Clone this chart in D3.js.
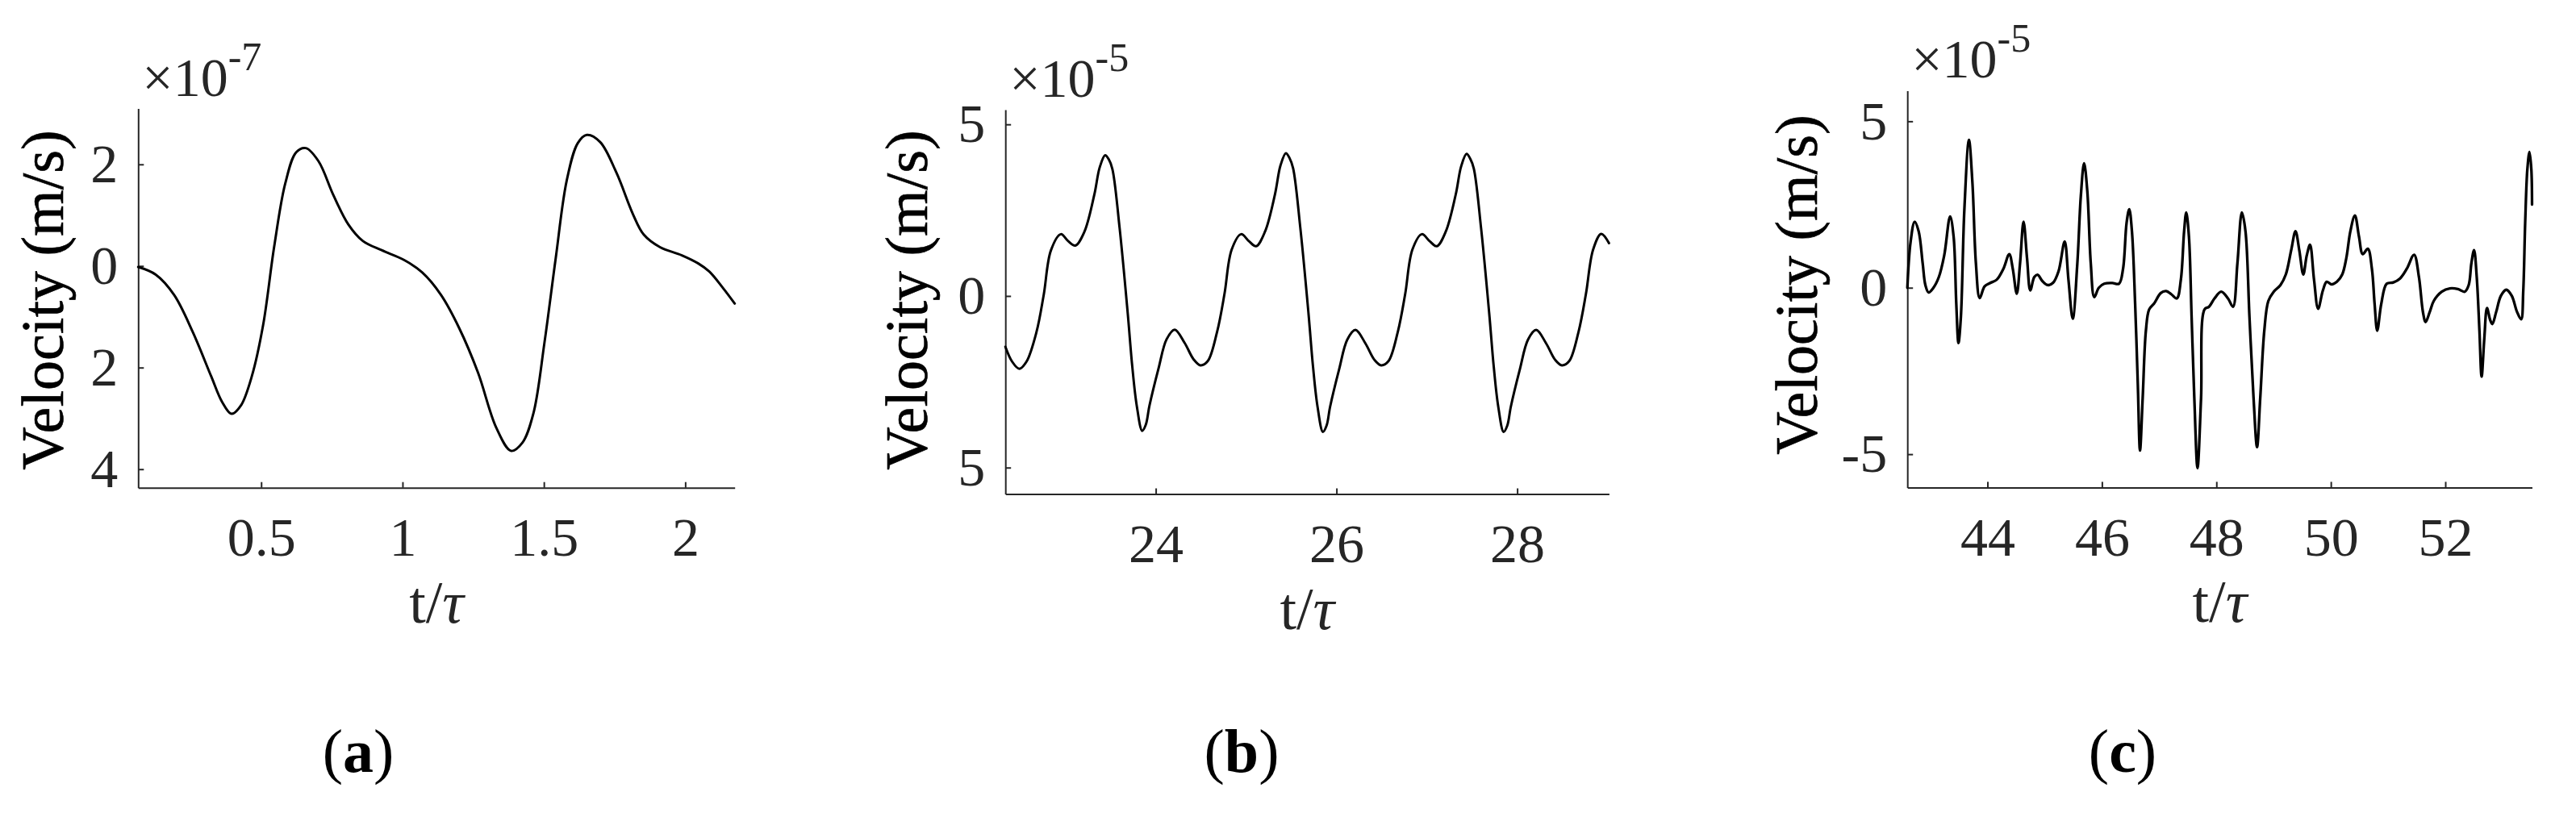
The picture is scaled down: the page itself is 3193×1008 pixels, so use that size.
<!DOCTYPE html>
<html><head><meta charset="utf-8">
<script src="https://cdn.jsdelivr.net/npm/d3@7"></script>
<style>html,body{margin:0;padding:0;background:#fff} svg{display:block}</style>
</head><body>
<script>
// ---------------- DATA ----------------
// Panel (a): t/tau and velocity (x1e-7 m/s)
const tA = [0.065, 0.127, 0.192, 0.258, 0.323, 0.362, 0.395, 0.428, 0.467, 0.507, 0.546, 0.585, 0.624, 0.658, 0.703, 0.755, 0.808, 0.860, 0.926, 1.005, 1.070, 1.136, 1.201, 1.267, 1.332, 1.384, 1.424, 1.463, 1.502, 1.542, 1.581, 1.620, 1.652, 1.699, 1.757, 1.815, 1.853, 1.911, 1.988, 2.046, 2.085, 2.133, 2.175];
const vA = [-0.02, -0.17, -0.57, -1.30, -2.17, -2.68, -2.91, -2.75, -2.17, -1.16, 0.38, 1.62, 2.24, 2.32, 2.06, 1.40, 0.82, 0.49, 0.31, 0.12, -0.13, -0.57, -1.23, -2.10, -3.19, -3.64, -3.48, -2.90, -1.51, 0.16, 1.69, 2.42, 2.58, 2.44, 1.83, 1.02, 0.62, 0.37, 0.21, 0.05, -0.11, -0.43, -0.74];

// Panel (b): t/tau and velocity (x1e-5 m/s)
const tB = [22.336, 22.41, 22.49, 22.57, 22.68, 22.76, 22.84, 22.95, 23.03, 23.11, 23.21, 23.32, 23.38, 23.44, 23.48, 23.52, 23.60, 23.69, 23.74, 23.79, 23.85, 23.89, 23.93, 24.03, 24.12, 24.21, 24.32, 24.42,
  24.495, 24.575, 24.68, 24.76, 24.84, 24.945, 25.03, 25.11, 25.21, 25.32, 25.38, 25.44, 25.48, 25.52, 25.60, 25.69, 25.74, 25.79, 25.85, 25.89, 25.93, 26.03, 26.12, 26.21, 26.32, 26.42,
  26.495, 26.575, 26.68, 26.76, 26.84, 26.945, 27.03, 27.11, 27.21, 27.32, 27.38, 27.44, 27.48, 27.52, 27.60, 27.69, 27.74, 27.79, 27.85, 27.89, 27.93, 28.03, 28.12, 28.21, 28.32, 28.42,
  28.495, 28.575, 28.68, 28.76, 28.84, 28.93, 29.016];
const vB = [-1.48, -1.91, -2.12, -1.91, -1.05, 0.03, 1.33, 1.80, 1.60, 1.47, 1.87, 2.95, 3.75, 4.10, 3.98, 3.70, 1.98, -0.51, -2.05, -3.20, -3.93, -3.75, -3.20, -2.12, -1.26, -0.98, -1.37, -1.85,
  -2.02, -1.90, -1.03, 0.05, 1.35, 1.80, 1.60, 1.45, 1.88, 2.97, 3.80, 4.16, 4.02, 3.72, 1.98, -0.50, -2.05, -3.22, -3.96, -3.78, -3.22, -2.13, -1.27, -0.99, -1.38, -1.86,
  -2.02, -1.90, -1.03, 0.05, 1.35, 1.80, 1.60, 1.45, 1.88, 2.96, 3.78, 4.14, 4.00, 3.71, 1.98, -0.50, -2.05, -3.22, -3.96, -3.78, -3.22, -2.13, -1.27, -0.99, -1.38, -1.86,
  -2.02, -1.90, -1.03, 0.05, 1.35, 1.81, 1.54];

// Panel (c): t/tau and velocity (x1e-5 m/s)
const tC = [42.6, 42.656, 42.727, 42.797, 42.868, 42.915, 42.971, 43.056, 43.150, 43.244, 43.347, 43.408, 43.455, 43.493, 43.535, 43.596, 43.676, 43.737, 43.798, 43.864, 43.949,
  44.043, 44.160, 44.278, 44.381, 44.442, 44.512, 44.569, 44.630, 44.691, 44.748, 44.818, 44.875, 44.959, 45.053, 45.147, 45.241, 45.349, 45.415, 45.490, 45.570, 45.631, 45.688, 45.744, 45.805, 45.866, 45.946,
  46.040, 46.181, 46.298, 46.369, 46.430, 46.477, 46.524, 46.580, 46.627, 46.665, 46.712, 46.768, 46.825, 46.909, 47.027, 47.121, 47.215, 47.309, 47.379, 47.436, 47.473, 47.520, 47.567, 47.614, 47.670, 47.732, 47.793, 47.872, 47.967,
  48.084, 48.202, 48.290, 48.367, 48.445, 48.508, 48.578, 48.649, 48.710, 48.766, 48.837, 48.907, 49.001, 49.119, 49.213, 49.307, 49.382, 49.448, 49.518, 49.579, 49.636, 49.706, 49.777, 49.861, 49.927,
  50.012, 50.106, 50.199, 50.270, 50.341, 50.420, 50.491, 50.557, 50.646, 50.717, 50.764, 50.810, 50.881, 50.975, 51.093, 51.210, 51.327, 51.454, 51.539, 51.609, 51.656, 51.727, 51.797, 51.938,
  52.079, 52.220, 52.338, 52.408, 52.455, 52.502, 52.549, 52.596, 52.634, 52.681, 52.728, 52.784, 52.822, 52.888, 52.972, 53.066, 53.160, 53.254, 53.325, 53.362, 53.395, 53.433, 53.470, 53.503, 53.515];
const vC = [0.00, 1.37, 1.98, 1.70, 0.73, 0.08, -0.14, 0.00, 0.32, 0.97, 2.14, 1.54, -0.48, -1.66, -0.89, 2.34, 4.44, 3.15, 0.73, -0.31, 0.04,
  0.14, 0.24, 0.57, 1.01, 0.57, -0.18, 0.73, 1.98, 0.89, -0.08, 0.32, 0.39, 0.20, 0.08, 0.15, 0.49, 1.39, 0.24, -0.93, 0.73, 2.75, 3.74, 2.91, 0.73, -0.28, 0.00,
  0.12, 0.14, 0.12, 0.57, 1.94, 2.36, 1.70, -0.48, -2.91, -4.89, -3.31, -1.29, -0.65, -0.48, -0.16, -0.10, -0.20, -0.32, 0.24, 1.70, 2.26, 1.54, -0.89, -3.31, -5.42, -3.31, -0.65, -0.57, -0.32,
  -0.12, -0.32, -0.57, 0.73, 2.26, 1.70, -0.89, -3.31, -4.79, -3.31, -1.29, -0.40, -0.12, 0.08, 0.40, 1.13, 1.70, 1.13, 0.40, 0.97, 1.29, 0.24, -0.63, -0.08, 0.18,
  0.10, 0.18, 0.40, 0.89, 1.70, 2.17, 1.54, 1.01, 1.17, 0.57, -0.48, -1.29, -0.48, 0.12, 0.16, 0.28, 0.57, 0.99, 0.32, -0.73, -1.03, -0.73, -0.40, -0.12,
  -0.02, -0.04, -0.12, 0.08, 0.73, 1.13, 0.32, -1.29, -2.67, -1.53, -0.61, -0.97, -1.09, -0.73, -0.24, -0.06, -0.24, -0.73, -0.95, -0.08, 1.94, 3.55, 4.08, 3.55, 2.50];

// Axis domains, ticks and labels
const xDomainA = [0.065, 2.175], yDomainA = [-4.365, 3.1];
const xTicksA = [0.5, 1, 1.5, 2], xTickLabelsA = ["0.5", "1", "1.5", "2"];
const yTicksA = [2, 0, -2, -4], yTickLabelsA = ["2", "0", "2", "4"];
const expA = "-7";

const xDomainB = [22.336, 29.016], yDomainB = [-5.77, 5.43];
const xTicksB = [24, 26, 28], xTickLabelsB = ["24", "26", "28"];
const yTicksB = [5, 0, -5], yTickLabelsB = ["5", "0", "5"];
const expB = "-5";

const xDomainC = [42.6, 53.515], yDomainC = [-6.0, 5.92];
const xTicksC = [44, 46, 48, 50, 52], xTickLabelsC = ["44", "46", "48", "50", "52"];
const yTicksC = [5, 0, -5], yTickLabelsC = ["5", "0", "-5"];
const expC = "-5";

const yLabel = "Velocity (m/s)";
const xLabelMain = "t/", xLabelGreek = "τ";
const captions = ["a", "b", "c"];

// ---------------- LAYOUT ----------------
const W = 3193, H = 1008;
const FONT = "'Liberation Serif','Times New Roman',Times,serif";
const TICK_COLOR = "#262626";
const TICK_FS = 68, LABEL_FS = 74;

const panels = [
  {t: tA, v: vA, xDomain: xDomainA, yDomain: yDomainA, xTicks: xTicksA, xTickLabels: xTickLabelsA, yTicks: yTicksA, yTickLabels: yTickLabelsA, exp: expA,
   left: 171.3, right: 910.7, top: 134.5, bottom: 604.7, ylabX: 78, ylabY: 372, sw: 3},
  {t: tB, v: vB, xDomain: xDomainB, yDomain: yDomainB, xTicks: xTicksB, xTickLabels: xTickLabelsB, yTicks: yTicksB, yTickLabels: yTickLabelsB, exp: expB,
   left: 1246.2, right: 1994.4, top: 135.9, bottom: 612.5, ylabX: 1149, ylabY: 372, sw: 3},
  {t: tC, v: vC, xDomain: xDomainC, yDomain: yDomainC, xTicks: xTicksC, xTickLabels: xTickLabelsC, yTicks: yTicksC, yTickLabels: yTickLabelsC, exp: expC,
   left: 2364.2, right: 3138.5, top: 112.4, bottom: 604.4, ylabX: 2252, ylabY: 353, sw: 3.3}
];
const captionX = [444, 1539, 2631], captionY = 957;

const svg = d3.select("body").append("svg").attr("width", W).attr("height", H);
svg.append("rect").attr("width", W).attr("height", H).attr("fill", "#fff");

panels.forEach(p => {
  const x = d3.scaleLinear().domain(p.xDomain).range([p.left, p.right]);
  const y = d3.scaleLinear().domain(p.yDomain).range([p.bottom, p.top]);

  // x axis
  const gx = svg.append("g").attr("transform", `translate(0,${p.bottom})`)
    .call(d3.axisBottom(x).tickValues(p.xTicks).tickFormat((d, i) => p.xTickLabels[i])
      .tickSizeInner(-7).tickSizeOuter(0).tickPadding(36));
  // y axis
  const gy = svg.append("g").attr("transform", `translate(${p.left},0)`)
    .call(d3.axisLeft(y).tickValues(p.yTicks).tickFormat((d, i) => p.yTickLabels[i])
      .tickSizeInner(-7).tickSizeOuter(0).tickPadding(25));

  [gx, gy].forEach(g => {
    g.selectAll(".domain").attr("stroke", TICK_COLOR).attr("stroke-width", 2);
    g.selectAll(".tick line").attr("stroke", TICK_COLOR).attr("stroke-width", 2);
    g.selectAll("text").attr("font-family", FONT).attr("font-size", TICK_FS).attr("fill", TICK_COLOR);
  });

  // data line
  const data = p.t.map((tt, i) => [tt, p.v[i]]);
  svg.append("path").datum(data)
    .attr("d", d3.line().x(d => x(d[0])).y(d => y(d[1])).curve(d3.curveCatmullRom.alpha(0.5)))
    .attr("fill", "none").attr("stroke", "#000").attr("stroke-width", p.sw)
    .attr("stroke-linejoin", "round").attr("stroke-linecap", "round");

  // exponent label
  const ex = svg.append("text").attr("x", p.left + 5).attr("y", p.top - 16)
    .attr("font-family", FONT).attr("font-size", TICK_FS).attr("fill", TICK_COLOR);
  ex.append("tspan").text("×10");
  ex.append("tspan").attr("font-size", 50).attr("dy", -32).text(p.exp);

  // y label
  svg.append("text").attr("transform", `translate(${p.ylabX},${p.ylabY}) rotate(-90)`)
    .attr("text-anchor", "middle").attr("font-family", FONT).attr("font-size", LABEL_FS).attr("fill", "#000")
    .attr("stroke", "#000").attr("stroke-width", 0.6)
    .text(yLabel);

  // x label
  const xl = svg.append("text").attr("x", (p.left + p.right) / 2).attr("y", p.bottom + 167)
    .attr("text-anchor", "middle").attr("font-family", FONT).attr("font-size", LABEL_FS).attr("fill", TICK_COLOR);
  xl.append("tspan").text(xLabelMain);
  xl.append("tspan").attr("font-style", "italic").text(xLabelGreek);
});

// captions
captions.forEach((c, i) => {
  const tx = svg.append("text").attr("x", captionX[i]).attr("y", captionY).attr("text-anchor", "middle")
    .attr("font-family", FONT).attr("font-size", 76).attr("fill", "#000");
  tx.append("tspan").text("(");
  tx.append("tspan").attr("font-weight", "bold").text(c);
  tx.append("tspan").text(")");
});
</script>
</body></html>
